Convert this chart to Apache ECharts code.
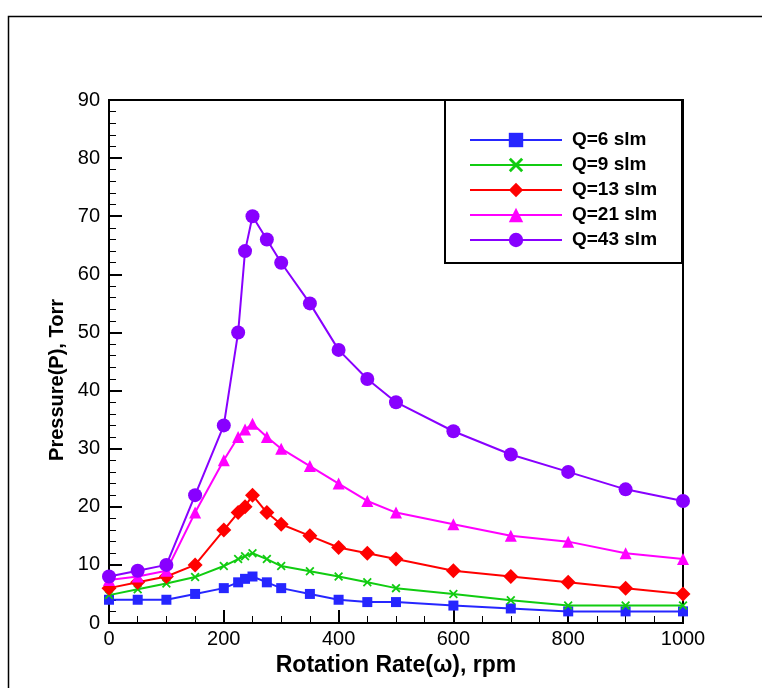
<!DOCTYPE html>
<html>
<head>
<meta charset="utf-8">
<script src="https://cdn.jsdelivr.net/npm/echarts@6/dist/echarts.min.js"></script>
<style>
html,body{margin:0;padding:0;background:#fff;}
#chart{width:762px;height:688px;}
</style>
</head>
<body>
<div id="chart"></div>
<script>
var rpm = [0, 50, 100, 150, 200, 225, 237, 250, 275, 300, 350, 400, 450, 500, 600, 700, 800, 900, 1000];
var q6  = [4, 4, 4, 5, 6, 7, 7.6, 8, 7, 6, 5, 4, 3.6, 3.6, 3, 2.5, 2, 2, 2];
var q9  = [4.8, 5.8, 6.8, 7.9, 9.8, 11, 11.5, 12, 11, 9.8, 8.9, 8, 7, 6, 5, 3.9, 3, 3, 3];
var q13 = [6, 7, 8, 10, 16, 19, 20, 22, 19, 17, 15, 13, 12, 11, 9, 8, 7, 6, 5];
var q21 = [7.4, 8, 9, 19, 28, 32, 33.3, 34.3, 32, 30, 27, 24, 21, 19, 17, 15, 14, 12, 11];
var q43 = [8, 9, 10, 22, 34, 50, 64, 70, 66, 62, 55, 47, 42, 38, 33, 29, 26, 23, 21];
var seriesNames = ['Q=6 slm', 'Q=9 slm', 'Q=13 slm', 'Q=21 slm', 'Q=43 slm'];
var xTitle = 'Rotation Rate(\u03c9), rpm';
var yTitle = 'Pressure(P), Torr';

function pairs(ys) { return rpm.map(function (x, i) { return [x, ys[i]]; }); }

var xMark = 'path://M0,1.4 L1.4,0 L5,3.6 L8.6,0 L10,1.4 L6.4,5 L10,8.6 L8.6,10 L5,6.4 L1.4,10 L0,8.6 L3.6,5 Z';
var colors = ['#2626ff', '#11cc11', '#ff0000', '#ff00ff', '#8800ff'];
var symbols = ['rect', xMark, 'diamond', 'triangle', 'circle'];
var sizes = [10, 9, 15, 12, 14];
var datas = [q6, q9, q13, q21, q43];
var font = '"Liberation Sans", Arial, Helvetica, sans-serif';

var series = datas.map(function (d, i) {
  return {
    name: seriesNames[i],
    type: 'line',
    data: pairs(d),
    symbol: symbols[i],
    symbolSize: sizes[i],
    showAllSymbol: true,
    lineStyle: { color: colors[i], width: 2 },
    itemStyle: { color: colors[i] },
    z: 2 + i
  };
});

var chart = echarts.init(document.getElementById('chart'), null, { renderer: 'canvas' });
chart.setOption({
  backgroundColor: '#ffffff',
  animation: false,
  grid: { left: 109, top: 100, width: 574, height: 523, show: true, borderColor: '#000', borderWidth: 2, backgroundColor: 'transparent' },
  xAxis: {
    type: 'value', min: 0, max: 1000, interval: 200,
    name: xTitle, nameLocation: 'middle', nameGap: 21,
    nameTextStyle: { fontFamily: font, fontWeight: 'bold', fontSize: 23, color: '#000' },
    axisLine: { lineStyle: { color: '#000', width: 2 } },
    axisTick: { inside: true, length: 13, lineStyle: { color: '#000', width: 2 } },
    minorTick: { show: true, splitNumber: 4, length: 7, lineStyle: { color: '#000', width: 1 } },
    splitLine: { show: false },
    axisLabel: { color: '#000', fontFamily: font, fontSize: 20, margin: 6, formatter: function (v) { return String(v); } }
  },
  yAxis: {
    type: 'value', min: 0, max: 90, interval: 10,
    axisLine: { lineStyle: { color: '#000', width: 2 } },
    axisTick: { inside: true, length: 13, lineStyle: { color: '#000', width: 2 } },
    minorTick: { show: true, splitNumber: 5, length: 7, lineStyle: { color: '#000', width: 1 } },
    splitLine: { show: false },
    axisLabel: { color: '#000', fontFamily: font, fontSize: 20, margin: 9, formatter: function (v) { return String(v); } }
  },
  legend: {
    orient: 'vertical', left: 464, top: 125,
    itemWidth: 92, itemHeight: 18, itemGap: 5,
    data: seriesNames,
    textStyle: { fontFamily: font, fontWeight: 'bold', fontSize: 19, color: '#000', lineHeight: 20, padding: [0, 0, 0, 5] },
    z: 10
  },
  graphic: [
    { type: 'polyline', shape: { points: [[8.5, 688], [8.5, 16.5], [762, 16.5]] }, style: { stroke: '#000', lineWidth: 1.5, fill: null }, z: 1 },
    { type: 'rect', shape: { x: 445, y: 100, width: 237, height: 163 }, style: { fill: '#fff', stroke: '#000', lineWidth: 2 }, z: 8 },
    { type: 'text', x: 57, y: 380, rotation: Math.PI / 2, style: { text: yTitle, font: 'bold 20px ' + font, fill: '#000', align: 'center', verticalAlign: 'middle' }, z: 5 }
  ],
  series: series
});
</script>
</body>
</html>
